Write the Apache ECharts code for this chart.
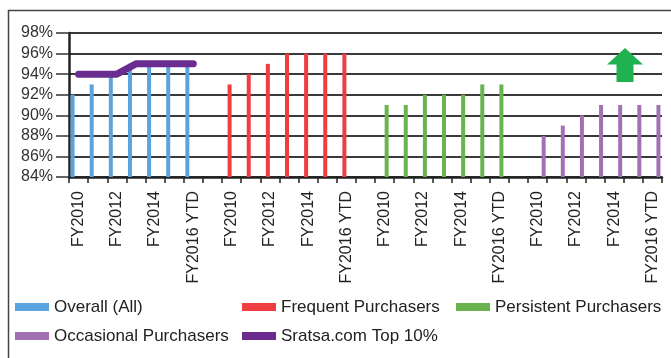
<!DOCTYPE html>
<html>
<head>
<meta charset="utf-8">
<script src="https://cdn.jsdelivr.net/npm/echarts@6/dist/echarts.min.js"></script>
<style>
html,body{margin:0;padding:0;background:#fff;}
#c{width:671px;height:358px;}
</style>
</head>
<body>
<div id="c"></div>
<script>
// ---- data ----
var years = ['FY2010', 'FY2011', 'FY2012', 'FY2013', 'FY2014', 'FY2015', 'FY2016 YTD'];
var overall = [92, 93, 94, 95, 95, 95, 95];
var frequent = [93, 94, 95, 96, 96, 96, 96];
var persistent = [91, 91, 92, 92, 92, 93, 93];
var occasional = [88, 89, 90, 91, 91, 91, 91];
var top10 = [94, 94, 94, 95, 95, 95, 95];
var yTicks = [84, 86, 88, 90, 92, 94, 96, 98];
var seriesNames = ['Overall (All)', 'Frequent Purchasers', 'Persistent Purchasers', 'Occasional Purchasers', 'Sratsa.com Top 10%'];
var colors = ['#5ba3dc', '#ef3e42', '#6ab34f', '#a171b3', '#6a2c91'];

// ---- build 31 categories: 4 groups of 7 with a blank gap between ----
var groups = 4;
var categories = [];
for (var g = 0; g < groups; g++) {
  for (var i = 0; i < years.length; i++) categories.push(years[i]);
  if (g < groups - 1) categories.push('');
}
function placeInGroup(vals, g) {
  var out = [];
  for (var k = 0; k < categories.length; k++) out.push('-');
  var start = g * (years.length + 1);
  for (var j = 0; j < vals.length; j++) out[start + j] = vals[j];
  return out;
}
var barVals = [overall, frequent, persistent, occasional];

var font = 'Liberation Sans, Arial, sans-serif';
var series = [];
for (var s = 0; s < 4; s++) {
  series.push({
    name: seriesNames[s],
    type: 'bar',
    data: placeInGroup(barVals[s], s),
    barWidth: 4,
    barGap: '0%',
    itemStyle: { color: colors[s] },
    animation: false
  });
}
series.push({
  name: seriesNames[4],
  type: 'line',
  data: placeInGroup(top10, 0),
  showSymbol: false,
  symbol: 'none',
  lineStyle: { color: colors[4], width: 7, cap: 'round', join: 'round' },
  itemStyle: { color: colors[4] },
  z: 5,
  animation: false
});

var legendBase = {
  orient: 'vertical',
  top: 297,
  padding: 0,
  itemGap: 9,
  itemWidth: 34,
  itemHeight: 8,
  icon: 'rect',
  selectedMode: false,
  textStyle: { fontFamily: font, fontSize: 17, color: '#222', lineHeight: 20 }
};
function legendAt(left, names) {
  var o = {};
  for (var k in legendBase) o[k] = legendBase[k];
  o.left = left;
  o.data = names;
  return o;
}

var chart = echarts.init(document.getElementById('c'), null, { renderer: 'canvas' });
chart.setOption({
  animation: false,
  backgroundColor: '#fff',
  grid: { left: 69, top: 33, width: 593, height: 144, containLabel: false },
  xAxis: {
    type: 'category',
    data: categories,
    boundaryGap: true,
    axisLine: { lineStyle: { color: '#222', width: 2.5 } },
    axisTick: { show: true, interval: 0, length: 6, lineStyle: { color: '#222', width: 1.5 } },
    axisLabel: {
      interval: 1,
      rotate: 90,
      margin: 14,
      fontFamily: font,
      fontSize: 16,
      color: '#222',
      hideOverlap: false
    },
    splitLine: { show: false }
  },
  yAxis: {
    type: 'value',
    min: yTicks[0],
    max: yTicks[yTicks.length - 1],
    interval: yTicks[1] - yTicks[0],
    axisLine: { show: true, lineStyle: { color: '#222', width: 2.5 } },
    axisTick: { show: true, length: 13, lineStyle: { color: '#333', width: 1.5 } },
    axisLabel: {
      margin: 16,
      fontFamily: font,
      fontSize: 16,
      color: '#333',
      formatter: '{value}%'
    },
    splitLine: { show: true, lineStyle: { color: '#3a3a3a', width: 1.8 } }
  },
  legend: [
    legendAt(15, [seriesNames[0], seriesNames[3]]),
    legendAt(242, [seriesNames[1], seriesNames[4]]),
    legendAt(456, [seriesNames[2]])
  ],
  graphic: [
    {
      type: 'rect',
      shape: { x: 8.5, y: 10.5, width: 700, height: 400 },
      style: { fill: 'none', stroke: '#444', lineWidth: 1.5 },
      silent: true,
      z: 0
    },
    {
      type: 'polygon',
      shape: { points: [[625, 48], [643, 64.5], [633.5, 64.5], [633.5, 82], [616.5, 82], [616.5, 64.5], [607, 64.5]] },
      style: { fill: '#20b150' },
      silent: true,
      z: 10
    }
  ],
  series: series
});
</script>
</body>
</html>
